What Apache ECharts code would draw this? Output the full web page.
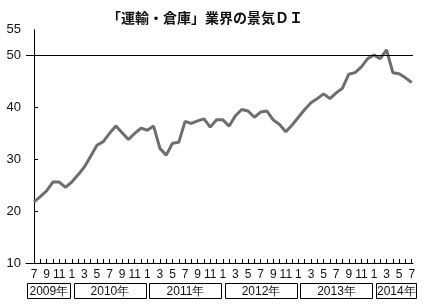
<!DOCTYPE html>
<html><head><meta charset="utf-8">
<script src="https://cdn.jsdelivr.net/npm/echarts@6/dist/echarts.min.js"></script>
<style>html,body{margin:0;padding:0;background:#fff}#c{width:427px;height:306px}</style>
</head><body><div id="c"></div>
<script>
const titleText = '「運輸・倉庫」業界の景気ＤＩ';
const monthLabels = [7,8,9,10,11,12,
  1,2,3,4,5,6,7,8,9,10,11,12,
  1,2,3,4,5,6,7,8,9,10,11,12,
  1,2,3,4,5,6,7,8,9,10,11,12,
  1,2,3,4,5,6,7,8,9,10,11,12,
  1,2,3,4,5,6,7];
const yearLabels = ['2009年','2010年','2011年','2012年','2013年','2014年'];
const diValues = [21.8,22.8,23.9,25.6,25.6,24.6,
  25.6,27.0,28.5,30.6,32.7,33.4,35.0,36.4,35.1,33.8,35.0,36.0,
  35.6,36.4,32.1,30.8,33.1,33.3,37.3,36.9,37.4,37.8,36.2,37.6,
  37.6,36.4,38.4,39.6,39.3,38.1,39.1,39.3,37.6,36.7,35.3,36.6,
  38.1,39.6,40.9,41.7,42.6,41.7,42.8,43.7,46.4,46.7,47.8,49.4,
  50.1,49.4,51.1,46.7,46.5,45.7,44.8];
const yTickLabels = [10,20,30,40,50,55];
const refLevel = 50;

const narrow = '"Liberation Sans Narrow","Arial Narrow","Liberation Sans",sans-serif';
const chart = echarts.init(document.getElementById('c'), null, {renderer:'canvas'});
const idx = monthLabels.map((m,i)=>i);
chart.setOption({
  animation:false,
  title:{text:titleText,left:200,top:6,textAlign:'center',
    textStyle:{fontFamily:'"Noto Sans CJK JP",sans-serif',fontWeight:'bold',fontSize:14,color:'#111'}},
  grid:{left:26,right:14,top:29.6,bottom:43},
  xAxis:{type:'value',min:-1.27,max:60.2,
    axisLine:{show:true,lineStyle:{color:'#000',width:1}},
    splitLine:{show:false},
    axisTick:{show:true,inside:true,length:4,lineStyle:{color:'#000'},customValues:idx},
    axisLabel:{show:true,customValues:idx.filter(i=>i%2===0),
      formatter:v=>String(monthLabels[Math.round(v)]),
      color:'#111',fontFamily:narrow,fontSize:12,margin:6}},
  yAxis:{type:'value',min:10,max:55,interval:5,
    axisLine:{show:true,lineStyle:{color:'#000',width:1}},
    splitLine:{show:false},
    axisTick:{show:true,inside:true,length:4,lineStyle:{color:'#000'},customValues:yTickLabels.slice(1,5)},
    axisLabel:{customValues:yTickLabels,color:'#111',fontFamily:narrow,fontSize:13,margin:5}},
  series:[{type:'line',data:diValues.map((v,i)=>[i,v]),symbol:'none',
    lineStyle:{color:'#6e6e6e',width:3},
    markLine:{silent:true,symbol:'none',label:{show:false},
      lineStyle:{color:'#000',width:1,type:'solid'},data:[{yAxis:refLevel}]}}]
});

// year boxes under the month labels
const px = v => chart.convertToPixel({xAxisIndex:0}, v);
const axisLeft = px(-1.27);
const starts = [0]; monthLabels.forEach((m,i)=>{ if(i>0 && m===1) starts.push(i); });
const els = [];
starts.forEach((s,k)=>{
  const e = k+1<starts.length ? starts[k+1]-1 : monthLabels.length-1;
  let x0 = px(s-0.5)+5;
  let x1 = px(e+0.5)+1;
  if(k===0) x0 = axisLeft+1;
  els.push({type:'rect',shape:{x:Math.round(x0)+0.5,y:283.5,width:Math.round(x1-x0),height:15},
    style:{fill:'#fff',stroke:'#000',lineWidth:1}});
  els.push({type:'text',x:(x0+x1)/2+0.5,y:291.5,style:{text:yearLabels[k],fill:'#111',
    font:'12px '+narrow,textAlign:'center',textVerticalAlign:'middle'}});
});
chart.setOption({graphic:els});
</script></body></html>
